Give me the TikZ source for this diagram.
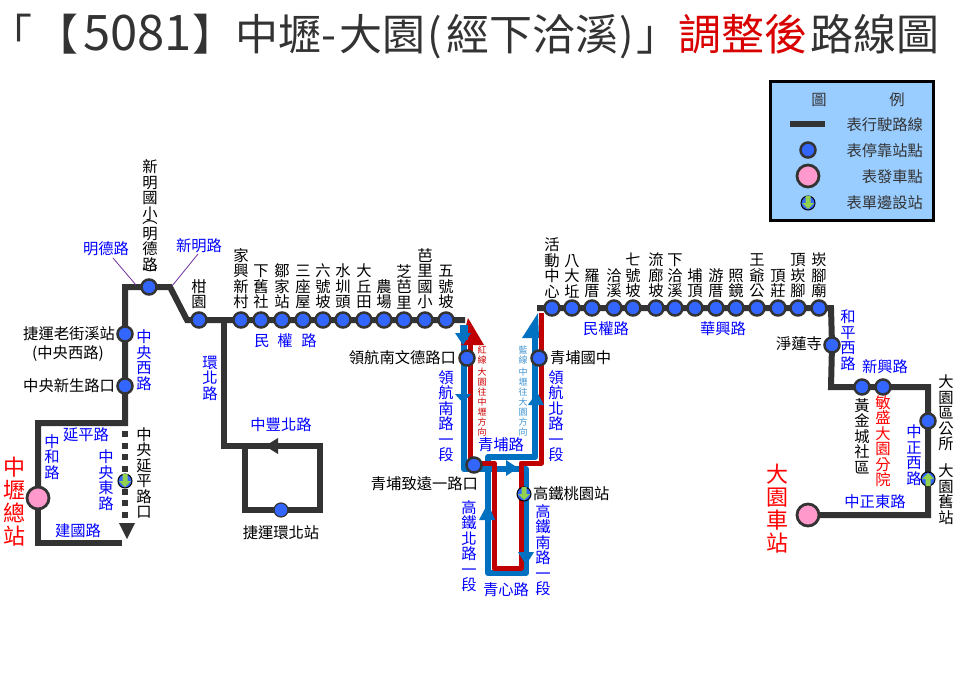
\documentclass[tikz,border=0pt]{standalone}
\usepackage{fontspec}
\setmainfont{Noto Sans CJK TC}
\newfontfamily\halfcjk[RawFeature=+halt]{Noto Sans CJK TC}
\usetikzlibrary{backgrounds}
\definecolor{ink}{HTML}{333333}
\definecolor{stnblue}{HTML}{3366FF}
\definecolor{pinkc}{HTML}{FF99CC}
\definecolor{legbg}{HTML}{99CCFF}
\definecolor{rtblue}{HTML}{0070C0}
\definecolor{rtred}{HTML}{C00000}
\definecolor{lblblue}{HTML}{0000FF}
\definecolor{lblred}{HTML}{FF0000}
\definecolor{greenc}{HTML}{92D050}
\definecolor{purplec}{HTML}{7030A0}
\def\VT#1{\vbox{\VTi#1\relax}}
\def\VTi#1{\ifx#1\relax\else\hbox to 1.1em{\hss#1\hss}\expandafter\VTi\fi}
\def\fs#1#2{\fontsize{#1}{#2}\selectfont}
\tikzset{
  x=1pt,y=-1pt,
  lbl/.style={inner sep=0pt,outer sep=0pt,text=black,font=\fs{15.3}{15.5}},
  bl/.style={lbl,text=lblblue},
  bigred/.style={lbl,text=lblred,font=\fs{22}{23}},
  ttl/.style={lbl,anchor=base west,text=ink,font=\fs{43}{46}},
  stn/.style={circle,draw=ink,line width=2.5pt,fill=stnblue,minimum size=15pt,inner sep=0pt},
  smallstn/.style={circle,draw=ink,line width=1.2pt,fill=stnblue,minimum size=14pt,inner sep=0pt},
  pinkstn/.style={circle,draw=ink,line width=2.8pt,fill=pinkc,minimum size=22pt,inner sep=0pt},
  edgestn/.style={circle,draw=black,line width=1pt,fill=stnblue,minimum size=14pt,inner sep=0pt},
  route/.style={draw=ink,line width=6pt,line join=miter},
  routeblue/.style={draw=rtblue,line width=6pt,line join=round},
  routered/.style={draw=rtred,line width=5pt,line join=round},
  tick/.style={draw=purplec,line width=0.8pt},
  greenarrow/.style={fill=greenc},
}
\begin{document}
\begin{tikzpicture}
\useasboundingbox (0,0) rectangle (960,698);
% title
\node[ttl,font=\fs{43}{46}\halfcjk] (titlea) at (11,51) {「};
\node[ttl] (titlea2) at (35,51) {【};
\node[ttl,font=\fs{49}{50}] (titleb) at (83,51) {5081};
\node[ttl] (titlec) at (192,51) {】中壢};
\node[ttl] (titled) at (321,51) {-};
\node[ttl] (titlee) at (339,51) {大園};
\node[ttl] (titlef) at (427,51) {(};
\node[ttl] (titleg) at (446,51) {經下洽溪};
\node[ttl] (titleh) at (619,51) {)};
\node[ttl] (titlei) at (636,51) {」};
\node[ttl,text=lblred!85!black] (title2) at (678,51) {調整後};
\node[ttl] (title3) at (810,51) {路線圖};
% legend
\node[draw=black,line width=3pt,fill=legbg,minimum width=163pt,minimum height=139pt,inner sep=0pt] (legend) at (852,151) {};
\node[lbl,text=ink] (leg1) at (819,100) {圖};
\node[lbl,text=ink] (leg2) at (897,100) {例};
\coordinate (legA) at (790,124);
\coordinate (legB) at (825,124);
\draw[route] (legA) -- (legB);
\node[lbl,text=ink,anchor=east] (legt1) at (923,125) {表行駛路線};
\node[stn] (legs2) at (808,150) {};
\node[lbl,text=ink,anchor=east] (legt2) at (923,151) {表停靠站點};
\node[pinkstn] (legs3) at (808,176) {};
\node[lbl,text=ink,anchor=east] (legt3) at (923,177) {表發車點};
\node[edgestn] (legs4) at (808,203) {};
\fill[greenarrow,shift={(legs4)}] (-2.5,-7)--(2.5,-7)--(2.5,0)--(6,0)--(0,6)--(-6,0)--(-2.5,0)--cycle;
\node[lbl,text=ink,anchor=east] (legt4) at (923,203) {表單邊設站};
% left section stations
\node[pinkstn] (zhongli) at (38,498) {};
\node[stn] (xinming) at (149,287) {};
\node[stn] (ganyuan) at (199,320) {};
\node[stn] (laojie) at (125,334) {};
\node[stn] (xinsheng) at (125,386) {};
\node[edgestn] (yanping) at (125,481) {};
\fill[greenarrow,shift={(yanping)}] (-2.5,-7)--(2.5,-7)--(2.5,0)--(6,0)--(0,6)--(-6,0)--(-2.5,0)--cycle;
\node[smallstn] (huanbei) at (281,510) {};
\foreach \n/\x/\t in {a/241/家興新村,b/261/下舊社,c/282/鄒家站,d/303/三座屋,e/323/六號坡,f/343/水圳頭,g/364/大丘田,h/384/農場,i/404/芝芭里,j/425/芭里國小,k/446/五號坡}{
  \node[stn] (w\n) at (\x,320) {};
  \node[lbl,anchor=south] (wl\n) at (\x,309) {\expandafter\VT\expandafter{\t}};
}
\foreach \n/\x/\t in {a/552/活動中心,b/572/八大坵,c/592/羅厝,d/614/洽溪,e/633/七號坡,f/656/流廊坡,g/675/下洽溪,h/695/埔頂,i/716/游厝,j/736/照鏡,k/757/王爺公,l/778/頂莊,m/798/頂崁腳,n/819/崁腳廟}{
  \node[stn] (e\n) at (\x,308) {};
  \node[lbl,anchor=south] (el\n) at (\x,298) {\expandafter\VT\expandafter{\t}};
}
\node[stn] (wende) at (467,358) {};
\node[stn] (zhiyuan) at (474,465) {};
\node[stn] (qingpu) at (539,358) {};
\node[edgestn] (hsr) at (524,494) {};
\fill[greenarrow,shift={(hsr)}] (-2.5,-7)--(2.5,-7)--(2.5,0)--(6,0)--(0,6)--(-6,0)--(-2.5,0)--cycle;
\node[stn] (jinglian) at (832,345) {};
\node[stn] (huangjin) at (862,387) {};
\node[stn] (minsheng) at (883,387) {};
\node[stn] (quoffice) at (928,421) {};
\node[edgestn] (oldstn) at (928,479) {};
\fill[greenarrow,shift={(oldstn)}] (-2.5,7)--(2.5,7)--(2.5,0)--(6,0)--(0,-6)--(-6,0)--(-2.5,0)--cycle;
\node[pinkstn] (dayuan) at (808,515) {};
% free route ends
\coordinate (dashend) at (125,521);
\coordinate (bottomend) at (122,543);
\coordinate (westend) at (465,320);
\coordinate (eaststart) at (537,308);
\coordinate (loopT) at (224,446);
\coordinate (tri1) at (127,539);
\begin{pgfonlayer}{background}
  \draw[route] (zhongli.center) -- (38,423) -- (125,423) -- (xinsheng.center) -- (laojie.center) -- (125,287) -- (xinming.center) -- (170,287) -- (187,320) -- (ganyuan.center) -- (westend);
  \draw[route] (zhongli.center) -- (38,543) -- (bottomend);
  \draw[draw=ink,line width=6pt,dash pattern=on 6pt off 5.5pt] (125,431) -- (dashend);
  \fill[ink] (119,523) -- (135,523) -- (tri1) -- cycle;
  \draw[route] (224,320) -- (loopT) -- (320,446) -- (320,510) -- (huanbei.center) -- (245,510) -- (245,446);
  \fill[ink] (265,446) -- (278,438) -- (278,454) -- cycle;
  \draw[route] (eaststart) -- (en.center) -- (831,308) -- (jinglian.center) -- (831,387) -- (huangjin.center) -- (minsheng.center) -- (928,387) -- (quoffice.center) -- (oldstn.center) -- (928,515) -- (dayuan.center);
  % coloured routes
  \draw[routeblue] (464,340) -- (464,469) -- (526,469) -- (526,573) -- (488,573) -- (488,457) -- (535,457) -- (535,330);
  \fill[rtred] (468,318) -- (484,345) -- (461,345) -- cycle;
  \draw[routered] (470,340) -- (470,463) -- (494,463) -- (494,568) -- (521,568) -- (521,463) -- (541.5,463) -- (541.5,313);
  \draw[draw=rtblue,line width=8pt] (464,325) -- (464,340);
  \fill[rtblue] (455,333) -- (471,333) -- (463,345) -- cycle;
  \fill[rtblue] (455,394) -- (471,394) -- (463,403) -- cycle;
  \fill[rtblue] (506,460) -- (506,476) -- (518,468) -- cycle;
  \fill[rtblue] (479,520) -- (495,520) -- (488,503) -- cycle;
  \fill[rtblue] (518,552) -- (534,552) -- (526,565) -- cycle;
  \fill[rtblue] (528,405) -- (544,405) -- (537,392) -- cycle;
  \fill[rtblue] (538,313) -- (522,338) -- (539,338) -- cycle;
\end{pgfonlayer}
% pointer ticks
\coordinate (t1a) at (113,258); \coordinate (t1b) at (136,285);
\coordinate (t2a) at (198,254); \coordinate (t2b) at (172,286);
\draw[tick] (t1a) -- (t1b);
\draw[tick] (t2a) -- (t2b);
% black labels
\node[lbl,anchor=center] (ln1) at (150,190) {\VT{新明國小}};
\node[lbl] (ln2) at (150,223) {︵};
\node[lbl] (ln3) at (150,249) {\VT{明德路}};
\node[lbl] (ln4) at (150,274.5) {︶};
\node[lbl,anchor=south] (lgy) at (199,309) {\VT{柑園}};
\node[lbl,anchor=east] (llj) at (115,334) {捷運老街溪站};
\node[lbl] (llj2) at (68,354) {(中央西路)};
\node[lbl,anchor=east] (lxs) at (115,386) {中央新生路口};
\node[lbl] (lyp) at (144,473) {\VT{中央延平路口}};
\node[lbl] (lhb) at (281,533) {捷運環北站};
\node[lbl,anchor=east] (lwd) at (456,358) {領航南文德路口};
\node[lbl,anchor=east] (lzy) at (478,484) {青埔致遠一路口};
\node[lbl,anchor=west] (lhsr) at (533,494) {高鐵桃園站};
\node[lbl,anchor=west] (lqp) at (550,358) {青埔國中};
\node[lbl,anchor=east] (ljl) at (822,344) {淨蓮寺};
\node[lbl] (lhj) at (862,436) {\VT{黃金城社區}};
\node[lbl,text=lblred] (lms) at (883,441) {\VT{敏盛大園分院}};
\node[lbl] (lqo) at (946,413) {\VT{大園區公所}};
\node[lbl] (lold) at (946,494) {\VT{大園舊站}};
\node[bigred] (lzl) at (14,502) {\VT{中壢總站}};
\node[bigred] (ldy) at (777,509) {\VT{大園車站}};
% blue road labels
\node[bl] (r1) at (106,249) {明德路};
\node[bl] (r2) at (199,246) {新明路};
\node[bl] (r3) at (144,360) {\VT{中央西路}};
\node[bl] (r4) at (210,378) {\VT{環北路}};
\node[bl] (r5) at (86,435) {延平路};
\node[bl] (r6) at (52,457) {\VT{中和路}};
\node[bl] (r7) at (106,480) {\VT{中央東路}};
\node[bl] (r8) at (78,531) {建國路};
\node[bl] (r9) at (281,425) {中豐北路};
\node[bl] (r10a) at (262,341) {民};
\node[bl] (r10b) at (285,341) {權};
\node[bl] (r10c) at (309,341) {路};
\node[bl] (r11) at (446,416) {\VT{領航南路一段}};
\node[bl] (r12) at (556,416) {\VT{領航北路一段}};
\node[bl,font=\fs{15.3}{16}] (r13) at (501,445) {青埔路};
\node[bl] (r14) at (469,546) {\VT{高鐵北路一段}};
\node[bl] (r15) at (543,550) {\VT{高鐵南路一段}};
\node[bl,font=\fs{15.3}{16}] (r16) at (506,590) {青心路};
\node[bl] (r17) at (606,329) {民權路};
\node[bl] (r18) at (723,329) {華興路};
\node[bl] (r19) at (848,340) {\VT{和平西路}};
\node[bl] (r20) at (885,367) {新興路};
\node[bl] (r21) at (914,455) {\VT{中正西路}};
\node[bl] (r22) at (875,502) {中正東路};
% direction notes
\node[lbl,text=rtred!80!red,font=\fs{9}{10}] (n1) at (482,391) {\vbox{\VT{紅線}\vskip3pt\VT{大園往中壢方向}}};
\node[lbl,text=rtblue!75!white,font=\fs{9}{10}] (n2) at (523,391) {\vbox{\VT{藍線}\vskip3pt\VT{中壢往大園方向}}};
\end{tikzpicture}
\end{document}
